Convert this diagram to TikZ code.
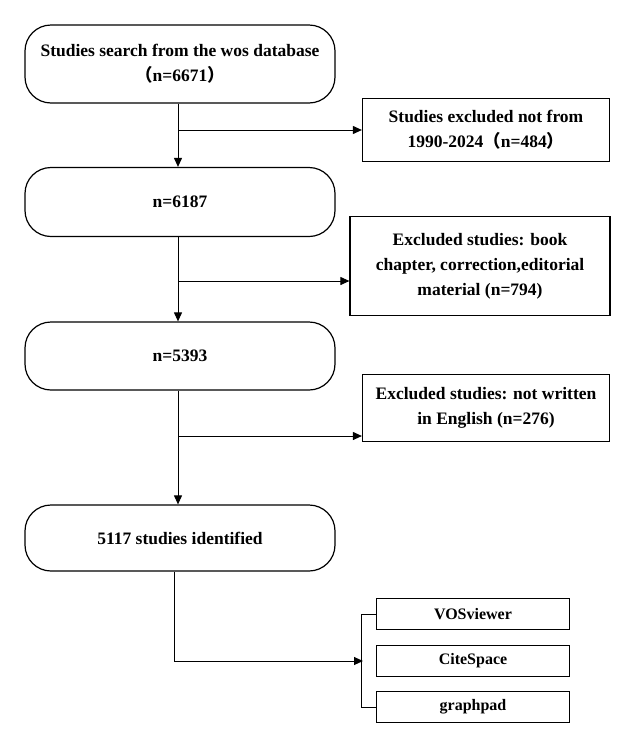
\documentclass[tikz,border=0pt]{standalone}
\usepackage{fontspec}
\setmainfont{Liberation Serif}
\newfontfamily\cjk{Noto Sans CJK SC}
\usetikzlibrary{positioning,arrows.meta}
\tikzset{
  stage/.style={draw,line width=1.2pt,rounded corners=26pt,minimum width=310pt,align=center,font=\bfseries\fontsize{17.5}{25}\selectfont},
  excl/.style={draw,line width=1.2pt,align=center,font=\bfseries\fontsize{17.5}{25}\selectfont},
  tool/.style={draw,line width=1.2pt,minimum width=193pt,minimum height=31pt,font=\bfseries\fontsize{16}{20}\selectfont},
  flow/.style={line width=1pt,-{Triangle[length=9pt,width=8pt]}}
}
\begin{document}
\begin{tikzpicture}[x=1pt,y=-1pt]
  \useasboundingbox (0,0) rectangle (634,745);
  \node[stage,minimum height=78pt] (s1) at (180,64) {Studies search from the wos database\\{\cjk（}n=6671{\cjk）}};
  \node[stage,minimum height=69pt] (s2) at (180,202) {n=6187};
  \node[stage,minimum height=68pt] (s3) at (180,356) {n=5393};
  \node[stage,minimum height=66pt] (s4) at (180,538) {5117 studies identified};

  \node[excl,minimum width=247pt,minimum height=63pt] (e1) at (486,130) {Studies excluded not from\\1990-2024{\cjk（}n=484{\cjk）}};
  \node[excl,minimum width=260pt,minimum height=99pt] (e2) at (480,266) {Excluded studies: book\\chapter, correction,editorial\\material (n=794)};
  \node[excl,minimum width=247pt,minimum height=67pt] (e3) at (486,408) {Excluded studies: not written\\in English (n=276)};

  \node[tool] (t1) at (473,614) {VOSviewer};
  \node[tool] (t2) at (473,661) {CiteSpace};
  \node[tool] (t3) at (473,707) {graphpad};

  % main flow
  \draw[flow] (s1.south -| 178,0) -- (s2.north -| 178,0);
  \draw[flow] (s2.south -| 178,0) -- (s3.north -| 178,0);
  \draw[flow] (s3.south -| 178,0) -- (s4.north -| 178,0);
  \draw[flow] (178,130) -- (e1.west);
  \draw[flow] (178,281) -- (e2.west |- 0,281);
  \draw[flow] (178,436) -- (e3.west |- 0,436);

  % tools
  \coordinate (br) at (363,661);
  \draw[line width=1pt] (t1.west) -- ++(-14,0) |- (t3.west);
  \draw[flow] (s4.south -| 174,0) |- (br);
\end{tikzpicture}
\end{document}
